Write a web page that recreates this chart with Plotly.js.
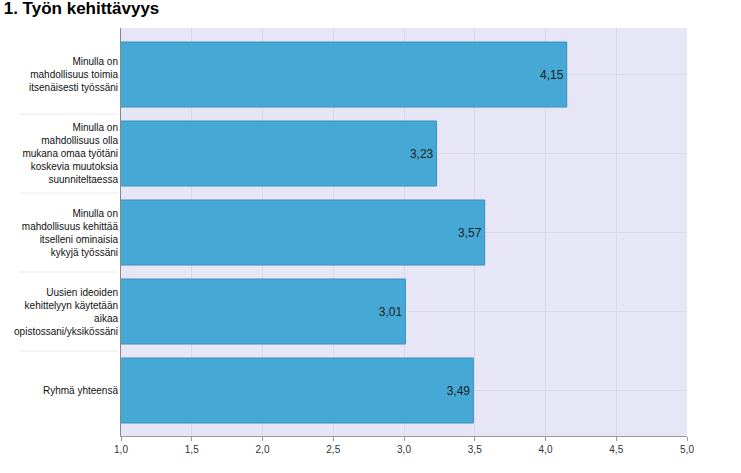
<!DOCTYPE html>
<html><head><meta charset="utf-8">
<script src="https://cdn.plot.ly/plotly-3.0.1.min.js"></script>
<style>body{margin:0;background:#fff}#c{width:741px;height:473px}</style>
</head><body><div id="c"></div>
<script>
var categories = [
  "Minulla on<br>mahdollisuus toimia<br>itsenäisesti työssäni",
  "Minulla on<br>mahdollisuus olla<br>mukana omaa työtäni<br>koskevia muutoksia<br>suunniteltaessa",
  "Minulla on<br>mahdollisuus kehittää<br>itselleni ominaisia<br>kykyjä työssäni",
  "Uusien ideoiden<br>kehittelyyn käytetään<br>aikaa<br>opistossani/yksikössäni",
  "Ryhmä yhteensä"
];
var values = [4.15, 3.23, 3.57, 3.01, 3.49];
var tickValues = [1.0, 1.5, 2.0, 2.5, 3.0, 3.5, 4.0, 4.5, 5.0];

var shapes = [];
for (var i = 0; i < categories.length - 1; i++) {
  shapes.push({type:'line', xref:'paper', yref:'y', x0:-0.18, x1:-0.005, y0:i+0.5, y1:i+0.5,
    line:{color:'#ececec', width:1}});
}

Plotly.newPlot('c', [{
  type:'bar', orientation:'h', y:categories, x:values,
  marker:{color:'#46a8d5', line:{color:'#3b8fbe', width:1}},
  texttemplate:'%{x:.2f}', textposition:'inside', insidetextanchor:'end',
  textfont:{family:'Arial, Liberation Sans', size:12, color:'#1e1e1e'},
  hoverinfo:'none'
}], {
  width:741, height:473,
  margin:{l:121, r:54, t:28, b:37},
  separators:', ',
  paper_bgcolor:'#fff', plot_bgcolor:'#e6e6f7',
  title:{text:'<b>1. Työn kehittävyys</b>', x:0.005, xanchor:'left', y:0.984, yanchor:'middle', pad:{t:0,b:0},
    font:{family:'Arial, Liberation Sans', size:17, color:'#000'}},
  font:{family:'Arial, Liberation Sans', size:10, color:'#222'},
  bargap:0.177,
  xaxis:{range:[1,5], tickvals:tickValues, tickformat:'.1f', showgrid:true, gridcolor:'#d8d8e8',
    zeroline:false, showline:true, linecolor:'#999', ticks:'outside', ticklen:4, tickcolor:'#999',
    tickfont:{size:10, color:'#333'}},
  yaxis:{range:[4.576, -0.589], showgrid:true, gridcolor:'#d8d8e8', showline:true, linecolor:'#888',
    ticks:'', tickfont:{size:10, color:'#111'}, automargin:false, zeroline:false},
  shapes:shapes,
  showlegend:false
}, {displayModeBar:false, staticPlot:true});
</script></body></html>
